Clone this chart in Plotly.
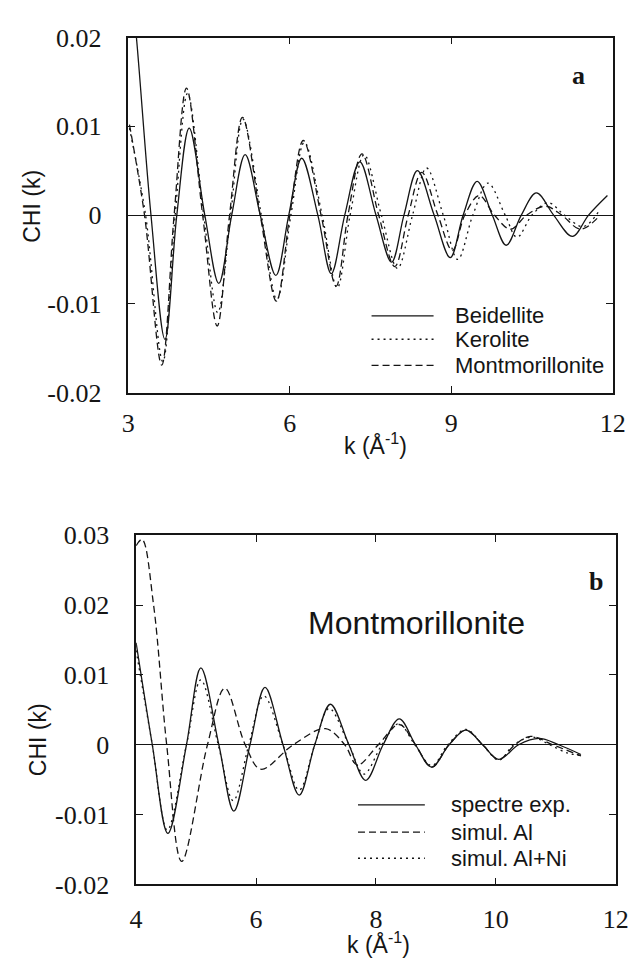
import plotly.graph_objects as go

# ---- panel a : CHI(k) of the three clays ----
k_beid = [3.05, 3.15, 3.42, 3.68, 3.90, 4.13, 4.42, 4.68, 4.92, 5.17, 5.45, 5.74, 5.98, 6.22,
          6.52, 6.77, 7.02, 7.30, 7.60, 7.89, 8.12, 8.37, 8.68, 8.98, 9.22, 9.48, 9.76,
          10.02, 10.30, 10.58, 10.90, 11.25, 11.55, 11.90]
chi_beid = [0.026, 0.020, 0.0, -0.0140, 0.0, 0.0098, 0.0, -0.0077, 0.0, 0.0068, 0.0, -0.0068,
            0.0, 0.0064, 0.0, -0.0066, 0.0, 0.0060, 0.0, -0.0053, 0.0, 0.0050, 0.0, -0.0048,
            0.0, 0.0038, 0.0, -0.0034, 0.0, 0.0025, 0.0, -0.0024, 0.0, 0.0022]

k_kero = [3.02, 3.32, 3.64, 3.87, 4.10, 4.40, 4.66, 4.90, 5.13, 5.47, 5.76, 6.02, 6.27, 6.60,
          6.88, 7.12, 7.38, 7.70, 8.00, 8.28, 8.54, 8.85, 9.12, 9.40, 9.68, 10.00, 10.22,
          10.50, 10.80, 11.10, 11.45, 11.75]
chi_kero = [0.0098, 0.0, -0.0165, 0.0, 0.0137, 0.0, -0.0110, 0.0, 0.0108, 0.0, -0.0095, 0.0,
            0.0082, 0.0, -0.0082, 0.0, 0.0068, 0.0, -0.0060, 0.0, 0.0053, 0.0, -0.0050, 0.0,
            0.0036, 0.0, -0.0025, 0.0, 0.0014, 0.0, -0.0013, 0.0005]

k_mont = [3.02, 3.30, 3.62, 3.85, 4.08, 4.38, 4.65, 4.88, 5.12, 5.45, 5.75, 6.00, 6.25, 6.58,
          6.86, 7.08, 7.34, 7.65, 7.95, 8.20, 8.45, 8.75, 9.02, 9.25, 9.52, 9.80, 10.10,
          10.40, 10.75, 11.05, 11.40, 11.72]
chi_mont = [0.0102, 0.0, -0.0169, 0.0, 0.0143, 0.0, -0.0125, 0.0, 0.0110, 0.0, -0.0097, 0.0,
            0.0084, 0.0, -0.0080, 0.0, 0.0069, 0.0, -0.0058, 0.0, 0.0048, 0.0, -0.0040, 0.0,
            0.0022, 0.0, -0.0016, 0.0, 0.0010, 0.0, -0.0016, -0.0003]

# ---- panel b : Montmorillonite, experiment vs simulations ----
k_exp = [4.00, 4.27, 4.53, 4.84, 5.08, 5.38, 5.63, 5.90, 6.15, 6.45, 6.72, 6.98, 7.24, 7.55,
         7.83, 8.12, 8.39, 8.66, 8.93, 9.22, 9.50, 9.78, 10.05, 10.38, 10.72, 11.05, 11.42]
chi_exp = [0.0146, 0.0, -0.0127, 0.0, 0.0110, 0.0, -0.0095, 0.0, 0.0082, 0.0, -0.0072, 0.0,
           0.0058, 0.0, -0.0051, 0.0, 0.0037, 0.0, -0.0032, 0.0, 0.0021, 0.0, -0.0021, 0.0,
           0.0009, 0.0, -0.0014]

k_al = [4.00, 4.10, 4.29, 4.51, 4.76, 5.19, 5.48, 5.82, 6.08, 6.62, 7.16, 7.48, 7.69, 8.04,
        8.39, 8.66, 8.93, 9.22, 9.50, 9.78, 10.05, 10.32, 10.58, 10.95, 11.42]
chi_al = [0.0285, 0.0294, 0.0201, 0.0, -0.0167, 0.0, 0.0081, 0.0, -0.0035, 0.0, 0.0023, 0.0,
          -0.0029, 0.0, 0.0029, 0.0, -0.0032, 0.0, 0.0021, 0.0, -0.0021, 0.0, 0.0012, 0.0,
          -0.0016]

k_alni = [4.00, 4.27, 4.52, 4.84, 5.08, 5.37, 5.62, 5.88, 6.13, 6.45, 6.72, 6.98, 7.22, 7.55,
          7.80, 8.10, 8.38, 8.65, 8.93, 9.20, 9.50, 9.78, 10.05, 10.30, 10.60, 10.90, 11.20, 11.40]
chi_alni = [0.0135, 0.0, -0.0122, 0.0, 0.0093, 0.0, -0.0080, 0.0, 0.0070, 0.0, -0.0065, 0.0,
            0.0052, 0.0, -0.0042, 0.0, 0.0030, 0.0, -0.0030, 0.0, 0.0022, 0.0, -0.0022, 0.0,
            0.0011, 0.0, -0.0012, -0.0015]

# tick labels
xa_vals = [3, 6, 9, 12]
xa_text = ["3", "6", "9", "12"]
ya_vals = [-0.02, -0.01, 0, 0.01, 0.02]
ya_text = ["-0.02", "-0.01", "0", "0.01", "0.02"]
xb_vals = [4, 6, 8, 10, 12]
xb_text = ["4", "6", "8", "10", "12"]
yb_vals = [-0.02, -0.01, 0, 0.01, 0.02, 0.03]
yb_text = ["-0.02", "-0.01", "0", "0.01", "0.02", "0.03"]

W, H = 643, 971
SERIF = "Liberation Serif"
SANS = "Liberation Sans"
INK = "#151515"
DASH = "7px,4px"
DOT = "2px,4px"


def px(x):
    return x / W


def py(y):
    return 1 - y / H


fig = go.Figure()


def curve(k, chi, dash, xa, ya):
    fig.add_trace(go.Scatter(x=k, y=chi, mode="lines", xaxis=xa, yaxis=ya,
                             line=dict(color=INK, width=1.3, dash=dash, shape="spline", smoothing=1.0),
                             showlegend=False, hoverinfo="skip"))


curve(k_beid, chi_beid, "solid", "x", "y")
curve(k_kero, chi_kero, DOT, "x", "y")
curve(k_mont, chi_mont, DASH, "x", "y")
curve(k_exp, chi_exp, "solid", "x2", "y2")
curve(k_al, chi_al, DASH, "x2", "y2")
curve(k_alni, chi_alni, DOT, "x2", "y2")

axis_common = dict(showline=True, linecolor=INK, linewidth=1.5, mirror="ticks", ticks="inside",
                   ticklen=7, tickwidth=1.2, tickcolor=INK, showgrid=False,
                   tickfont=dict(family=SERIF, size=26, color=INK))

fig.update_layout(
    width=W, height=H, margin=dict(l=0, r=0, t=0, b=0),
    paper_bgcolor="white", plot_bgcolor="white", showlegend=False,
    xaxis=dict(axis_common, domain=[px(117), px(617)], range=[3, 12], anchor="y",
               tickvals=xa_vals, ticktext=xa_text, zeroline=False, ticklabelstandoff=6),
    yaxis=dict(axis_common, domain=[py(382), py(16)], range=[-0.02, 0.02], anchor="x",
               tickvals=ya_vals, ticktext=ya_text, zeroline=True, zerolinecolor=INK,
               zerolinewidth=1, ticklabelstandoff=20),
    xaxis2=dict(axis_common, domain=[px(125), px(620)], range=[4, 12], anchor="y2",
                tickvals=xb_vals, ticktext=xb_text, zeroline=False, ticklabelstandoff=11),
    yaxis2=dict(axis_common, domain=[py(889), py(529)], range=[-0.02, 0.03], anchor="x2",
                tickvals=yb_vals, ticktext=yb_text, zeroline=True, zerolinecolor=INK,
                zerolinewidth=1, ticklabelstandoff=20),
)

# axis titles and panel letters
notes = [
    dict(x=18, y=190, text="CHI (k)", textangle=-90, size=23, family=SANS),
    dict(x=372, y=435, text="k (Å<sup>-1</sup>)", size=23, family=SANS),
    dict(x=582, y=55, text="<b>a</b>", size=26, family=SERIF),
    dict(x=24, y=740, text="CHI (k)", textangle=-90, size=23, family=SANS),
    dict(x=375, y=949, text="k (Å<sup>-1</sup>)", size=23, family=SANS),
    dict(x=600, y=577, text="<b>b</b>", size=26, family=SERIF),
    dict(x=414, y=620, text="Montmorillonite", size=32, family=SANS),
]
for n in notes:
    fig.add_annotation(x=px(n["x"]), y=py(n["y"]), xref="paper", yref="paper", text=n["text"],
                       showarrow=False, textangle=n.get("textangle", 0),
                       xanchor="center", yanchor="middle",
                       font=dict(family=n["family"], size=n["size"], color=INK))

# hand-drawn legends (long line samples as in the original figure)
legend_a = [("Beidellite", "solid", 303), ("Kerolite", DOT, 327), ("Montmorillonite", DASH, 354)]
legend_b = [("spectre exp.", "solid", 807), ("simul. Al", DASH, 835), ("simul. Al+Ni", DOT, 862)]
for items, x0, x1, xt in [(legend_a, 368, 432, 452), (legend_b, 354, 423, 448)]:
    for label, dash, yy in items:
        fig.add_shape(type="line", xref="paper", yref="paper", x0=px(x0), x1=px(x1),
                      y0=py(yy), y1=py(yy), line=dict(color=INK, width=1.3, dash=dash))
        fig.add_annotation(x=px(xt), y=py(yy), xref="paper", yref="paper", text=label,
                           showarrow=False, xanchor="left", yanchor="middle",
                           font=dict(family=SANS, size=22, color=INK))

fig.write_html("out.html")
